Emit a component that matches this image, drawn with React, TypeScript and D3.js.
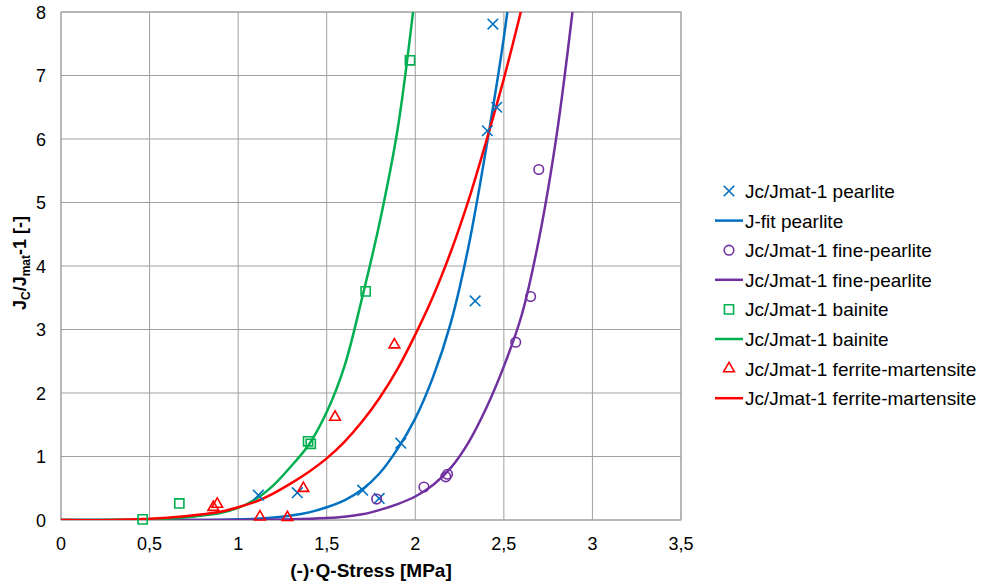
import React from "react";
import * as d3 from "d3";

// ---------- data ----------
const pearliteX = [1.114, 1.334, 1.703, 1.796, 1.918, 2.338, 2.407, 2.46, 2.438];
const pearliteY = [0.39, 0.43, 0.47, 0.34, 1.21, 3.45, 6.13, 6.5, 7.81];

const finePearliteX = [1.782, 2.049, 2.172, 2.182, 2.567, 2.651, 2.697];
const finePearliteY = [0.33, 0.52, 0.68, 0.72, 2.8, 3.52, 5.52];

const bainiteX = [0.461, 0.668, 1.395, 1.41, 1.72, 1.97];
const bainiteY = [0.01, 0.26, 1.24, 1.2, 3.6, 7.24];

const fmX = [0.86, 0.882, 1.123, 1.278, 1.368, 1.547, 1.882];
const fmY = [0.2, 0.25, 0.05, 0.04, 0.5, 1.62, 2.76];

const pearliteFitX = [0, 0.5, 0.8, 1.0, 1.1, 1.2, 1.3, 1.4, 1.5, 1.6, 1.7, 1.8, 1.9, 2.0, 2.1, 2.2, 2.3, 2.4, 2.5, 2.6];
const pearliteFitY = [0, 0, 0, 0.01, 0.02, 0.04, 0.07, 0.12, 0.2, 0.31, 0.48, 0.74, 1.12, 1.6, 2.25, 3.1, 4.3, 5.85, 7.6, 9.8];

const finePearliteFitX = [0, 1.0, 1.3, 1.5, 1.6, 1.7, 1.8, 1.9, 2.0, 2.1, 2.2, 2.3, 2.4, 2.5, 2.6, 2.7, 2.8, 2.9];
const finePearliteFitY = [0, 0, 0.01, 0.03, 0.05, 0.09, 0.16, 0.25, 0.37, 0.55, 0.82, 1.22, 1.76, 2.42, 3.22, 4.45, 6.1, 8.3];

const bainiteFitX = [0, 0.5, 0.7, 0.8, 0.9, 1.0, 1.1, 1.2, 1.3, 1.4, 1.5, 1.6, 1.7, 1.8, 1.9, 2.0];
const bainiteFitY = [0, 0.01, 0.04, 0.07, 0.11, 0.19, 0.33, 0.55, 0.85, 1.19, 1.7, 2.42, 3.5, 4.7, 6.15, 8.3];

const fmFitX = [0, 0.3, 0.5, 0.7, 0.8, 0.9, 1.0, 1.1, 1.2, 1.3, 1.4, 1.5, 1.6, 1.7, 1.8, 1.9, 2.0, 2.1, 2.2, 2.3, 2.4, 2.5, 2.6];
const fmFitY = [0, 0, 0.02, 0.06, 0.09, 0.13, 0.2, 0.29, 0.42, 0.58, 0.76, 0.97, 1.23, 1.55, 1.93, 2.38, 2.92, 3.52, 4.22, 5.03, 5.96, 6.95, 8.05];

const xTicks = [0, 0.5, 1, 1.5, 2, 2.5, 3, 3.5];
const yTicks = [0, 1, 2, 3, 4, 5, 6, 7, 8];

const legendLabels = [
  "Jc/Jmat-1 pearlite",
  "J-fit pearlite",
  "Jc/Jmat-1 fine-pearlite",
  "Jc/Jmat-1 fine-pearlite",
  "Jc/Jmat-1 bainite",
  "Jc/Jmat-1 bainite",
  "Jc/Jmat-1 ferrite-martensite",
  "Jc/Jmat-1 ferrite-martensite",
];

// ---------- styles ----------
const BLUE = "#0070C0";
const PURPLE = "#7030A0";
const GREEN = "#00B050";
const RED = "#FF0000";
const FONT = "'Liberation Sans', Arial, sans-serif";

const W = 984;
const H = 587;
const plot = { left: 61, right: 681, top: 12, bottom: 520 };

const x = d3.scaleLinear().domain([0, 3.5]).range([plot.left, plot.right]);
const y = d3.scaleLinear().domain([0, 8]).range([plot.bottom, plot.top]);

const fmt = (v: number) => String(v).replace(".", ",");

type Sym = "x" | "circle" | "square" | "triangle";
const symPath = (s: Sym) => {
  switch (s) {
    case "x":
      return d3.symbol(d3.symbolX, 75)()!;
    case "circle":
      return d3.symbol(d3.symbolCircle, 72)()!;
    case "square":
      return d3.symbol(d3.symbolSquare, 84)()!;
    case "triangle":
      return d3.symbol(d3.symbolTriangle, 50)()!;
  }
};

const zip = (xs: number[], ys: number[]) => xs.map((v, i) => [v, ys[i]] as [number, number]);

const lineGen = d3
  .line<[number, number]>()
  .x((d) => x(d[0]))
  .y((d) => y(d[1]))
  .curve(d3.curveCatmullRom.alpha(0.5));

const fits = [
  { xs: pearliteFitX, ys: pearliteFitY, color: BLUE },
  { xs: finePearliteFitX, ys: finePearliteFitY, color: PURPLE },
  { xs: bainiteFitX, ys: bainiteFitY, color: GREEN },
  { xs: fmFitX, ys: fmFitY, color: RED },
];

const scatters: { xs: number[]; ys: number[]; color: string; sym: Sym }[] = [
  { xs: pearliteX, ys: pearliteY, color: BLUE, sym: "x" },
  { xs: finePearliteX, ys: finePearliteY, color: PURPLE, sym: "circle" },
  { xs: bainiteX, ys: bainiteY, color: GREEN, sym: "square" },
  { xs: fmX, ys: fmY, color: RED, sym: "triangle" },
];

const legendItems: { kind: "marker" | "line"; color: string; sym?: Sym }[] = [
  { kind: "marker", color: BLUE, sym: "x" },
  { kind: "line", color: BLUE },
  { kind: "marker", color: PURPLE, sym: "circle" },
  { kind: "line", color: PURPLE },
  { kind: "marker", color: GREEN, sym: "square" },
  { kind: "line", color: GREEN },
  { kind: "marker", color: RED, sym: "triangle" },
  { kind: "line", color: RED },
];

export default function App() {
  const legendX = 715;
  const legendY0 = 191;
  const legendStep = 29.6;
  return (
    <svg
      width={W}
      height={H}
      style={{ position: "absolute", left: 0, top: 0, background: "#fff" }}
      fontFamily={FONT}
    >
      <defs>
        <clipPath id="plotclip">
          <rect x={plot.left} y={plot.top} width={plot.right - plot.left} height={plot.bottom - plot.top} />
        </clipPath>
      </defs>
      <rect width={W} height={H} fill="#fff" />
      {/* grid */}
      {xTicks.map((t) => (
        <line key={"gx" + t} x1={x(t)} x2={x(t)} y1={plot.top} y2={plot.bottom} stroke="#a0a0a0" strokeWidth={1} />
      ))}
      {yTicks.map((t) => (
        <line key={"gy" + t} x1={plot.left} x2={plot.right} y1={y(t)} y2={y(t)} stroke="#a0a0a0" strokeWidth={1} />
      ))}
      <rect
        x={plot.left}
        y={plot.top}
        width={plot.right - plot.left}
        height={plot.bottom - plot.top}
        fill="none"
        stroke="#a0a0a0"
        strokeWidth={1}
      />
      {/* tick labels */}
      {xTicks.map((t) => (
        <text key={"tx" + t} x={x(t)} y={550} textAnchor="middle" fontSize={18} fill="#000">
          {fmt(t)}
        </text>
      ))}
      {yTicks.map((t) => (
        <text key={"ty" + t} x={46} y={y(t) + 6.5} textAnchor="end" fontSize={18} fill="#000">
          {fmt(t)}
        </text>
      ))}
      {/* axis titles */}
      <text x={371} y={577} textAnchor="middle" fontSize={19} fontWeight="bold">
        (-)·Q-Stress [MPa]
      </text>
      <text transform="translate(26,263) rotate(-90)" textAnchor="middle" fontSize={18} fontWeight="bold">
        J<tspan fontSize={12} dy={4}>C</tspan>
        <tspan dy={-4}>/J</tspan>
        <tspan fontSize={12} dy={4}>mat</tspan>
        <tspan dy={-4}>-1 [-]</tspan>
      </text>
      {/* fits */}
      <g clipPath="url(#plotclip)">
        {fits.map((f, i) => (
          <path key={"f" + i} d={lineGen(zip(f.xs, f.ys))!} fill="none" stroke={f.color} strokeWidth={2.5} />
        ))}
      </g>
      {/* markers */}
      {scatters.map((s, i) => (
        <g key={"s" + i}>
          {s.xs.map((v, j) => (
            <path
              key={j}
              d={symPath(s.sym)}
              transform={`translate(${x(v)},${y(s.ys[j])})`}
              fill="none"
              stroke={s.color}
              strokeWidth={1.6}
            />
          ))}
        </g>
      ))}
      {/* legend */}
      {legendLabels.map((lab, i) => {
        const it = legendItems[i];
        const cy = legendY0 + i * legendStep;
        return (
          <g key={"l" + i}>
            {it.kind === "line" ? (
              <line x1={legendX} x2={legendX + 28} y1={cy} y2={cy} stroke={it.color} strokeWidth={2.5} />
            ) : (
              <path
                d={symPath(it.sym!)}
                transform={`translate(${legendX + 14},${cy})`}
                fill="none"
                stroke={it.color}
                strokeWidth={1.6}
              />
            )}
            <text x={745} y={cy + 7} fontSize={19} fill="#000">
              {lab}
            </text>
          </g>
        );
      })}
    </svg>
  );
}
